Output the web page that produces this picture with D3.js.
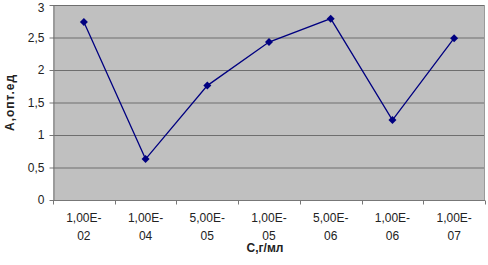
<!DOCTYPE html>
<html>
<head>
<meta charset="utf-8">
<script src="https://cdn.jsdelivr.net/npm/d3@7"></script>
<style>
  body { margin: 0; background: #fff; }
  text { font-family: "Liberation Sans", Arial, sans-serif; }
</style>
</head>
<body>
<div id="chart"></div>
<script>
// Data
const categories = ["1,00E-02", "1,00E-04", "5,00E-05", "1,00E-05", "5,00E-06", "1,00E-06", "1,00E-07"];
const values = [2.74, 0.63, 1.76, 2.43, 2.79, 1.23, 2.49];
const yTicks = [0, 0.5, 1, 1.5, 2, 2.5, 3];

const width = 488, height = 265;
const plot = {left: 53, right: 485, top: 5, bottom: 200};

const svg = d3.select("#chart")
  .append("svg")
  .attr("width", width)
  .attr("height", height);

const xScale = d3.scaleBand()
  .domain(categories)
  .range([plot.left, plot.right])
  .padding(0);

const yScale = d3.scaleLinear()
  .domain([0, 3])
  .range([plot.bottom, plot.top]);

// Plot background
svg.append("rect")
  .attr("x", plot.left)
  .attr("y", plot.top)
  .attr("width", plot.right - plot.left)
  .attr("height", plot.bottom - plot.top)
  .attr("fill", "#c0c0c0");

// Gridlines
svg.append("g")
  .selectAll("line")
  .data(yTicks.filter(d => d > 0))
  .join("line")
  .attr("x1", plot.left)
  .attr("x2", plot.right)
  .attr("y1", d => yScale(d) + 0.5)
  .attr("y2", d => yScale(d) + 0.5)
  .attr("stroke", "#6e6e6e")
  .attr("stroke-width", 1);

// Right border (light)
svg.append("line")
  .attr("x1", plot.right - 0.5).attr("x2", plot.right - 0.5)
  .attr("y1", plot.top).attr("y2", plot.bottom)
  .attr("stroke", "#9a9a9a");

// Y axis
const yAxis = d3.axisLeft(yScale)
  .tickValues(yTicks)
  .tickSize(4)
  .tickSizeOuter(0)
  .tickFormat(d => String(d).replace(".", ","));

const gy = svg.append("g")
  .attr("transform", `translate(${plot.left + 0.5},0)`)
  .call(yAxis);
gy.select(".domain").attr("stroke", "#777");
gy.selectAll(".tick line").attr("stroke", "#777");
gy.selectAll("text")
  .attr("font-size", 12)
  .attr("fill", "#222")
  .attr("font-family", "Liberation Sans, Arial, sans-serif")
  .attr("x", -9)
  .attr("dy", d => d === 3 ? "0.55em" : "0.32em"); // keep the top label inside the page

// X axis: ticks at category boundaries
const gx = svg.append("g")
  .attr("transform", `translate(0,${plot.bottom + 0.5})`);
gx.append("line")
  .attr("x1", plot.left).attr("x2", plot.right)
  .attr("stroke", "#777");
const bounds = categories.map(c => xScale(c)).concat([plot.right]);
gx.selectAll("line.tk")
  .data(bounds)
  .join("line")
  .attr("class", "tk")
  .attr("x1", d => Math.round(d) + 0.5)
  .attr("x2", d => Math.round(d) + 0.5)
  .attr("y1", 0)
  .attr("y2", 4)
  .attr("stroke", "#777");

const xl = gx.selectAll("text.lbl")
  .data(categories)
  .join("text")
  .attr("class", "lbl")
  .attr("text-anchor", "middle")
  .attr("font-size", 12)
  .attr("fill", "#222");
xl.append("tspan")
  .attr("x", d => xScale(d) + xScale.bandwidth() / 2)
  .attr("y", 21)
  .text(d => d.split("-")[0] + "-");
xl.append("tspan")
  .attr("x", d => xScale(d) + xScale.bandwidth() / 2)
  .attr("y", 39)
  .text(d => d.split("-")[1]);

// Line
const line = d3.line()
  .x((d, i) => xScale(categories[i]) + xScale.bandwidth() / 2)
  .y(d => yScale(d));

svg.append("path")
  .datum(values)
  .attr("fill", "none")
  .attr("stroke", "#000080")
  .attr("stroke-width", 1.3)
  .attr("d", line);

// Diamond markers
svg.append("g")
  .selectAll("path")
  .data(values)
  .join("path")
  .attr("transform", (d, i) => `translate(${xScale(categories[i]) + xScale.bandwidth() / 2},${yScale(d)})`)
  .attr("d", "M0,-4L4,0L0,4L-4,0Z")
  .attr("fill", "#000080");

// Axis titles
svg.append("text")
  .attr("x", 265)
  .attr("y", 252)
  .attr("text-anchor", "middle")
  .attr("font-size", 12)
  .attr("font-weight", "bold")
  .attr("fill", "#222")
  .text("С,г/мл");

svg.append("text")
  .attr("transform", `translate(14,${(plot.top + plot.bottom) / 2}) rotate(-90)`)
  .attr("text-anchor", "middle")
  .attr("font-size", 12)
  .attr("font-weight", "bold")
  .attr("fill", "#222")
  .attr("letter-spacing", 1)
  .text("А,опт.ед");
</script>
</body>
</html>
